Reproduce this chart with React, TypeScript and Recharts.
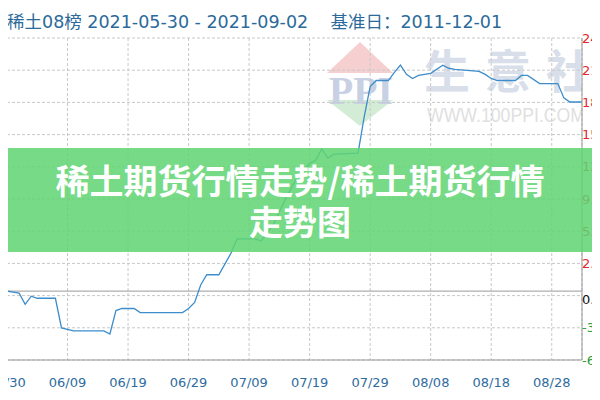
import { LineChart, Line, XAxis, YAxis, CartesianGrid, ReferenceLine } from 'recharts'

// day offsets from 2021-05-30 and the index change (%)
const dayOffsets = [
  0, 1, 2, 3, 4, 5, 8, 9, 11, 16, 17, 18, 19, 21, 22, 29, 30, 31, 32, 33, 35, 37, 38, 40, 41, 42, 44, 46,
  48, 50, 51, 52, 53, 54, 58, 59, 60, 61, 63, 64, 65, 66, 67, 68, 70, 72, 73, 74, 78, 79, 80, 81, 84, 85,
  86, 88, 91, 92, 93, 95,
]
const changeValues = [
  0, -0.1, -0.2, -1.3, -0.5, -0.7, -0.7, -3.6, -3.9, -3.9, -4.2, -1.9, -1.7, -1.7, -2.1, -2.1, -1.7, -1.1,
  0.6, 1.6, 1.6, 3.7, 5.1, 5.1, 5.1, 4.9, 6.5, 9.0, 11.2, 12.5, 12.8, 13.9, 13.0, 13.4, 13.5, 17.0, 20.0,
  20.6, 20.6, 21.4, 22.1, 21.2, 20.8, 21.1, 21.3, 22.1, 21.8, 21.7, 21.5, 21.2, 20.8, 20.6, 20.6, 21.1,
  21.1, 20.3, 20.3, 18.9, 18.5, 18.5,
]

const xTicks = [0, 10, 20, 30, 40, 50, 60, 70, 80, 90]
const xTickLabels = ['05/30', '06/09', '06/19', '06/29', '07/09', '07/19', '07/29', '08/08', '08/18', '08/28']
const yTicks = [-6.74, -3.59, -0.44, 2.71, 5.86, 9.01, 12.16, 15.31, 18.46, 21.61, 24.76]

const TITLE = '稀土08榜 2021-05-30 - 2021-09-02\u00a0\u00a0\u00a0\u00a0基准日：2011-12-01'

const chartData = dayOffsets.map((d, i) => ({ day: d, v: changeValues[i] }))

type TickProps = {
  x?: number
  y?: number
  payload?: { value: number }
}

function YTick(props: TickProps) {
  const { x = 0, y = 0, payload } = props
  const v = payload ? payload.value : 0
  const nearZero = Math.abs(v) < 1
  const label = nearZero ? '0.00%' : `${v.toFixed(2)}%`
  const color = nearZero ? '#111' : v > 0 ? '#e5262b' : '#2e9e3a'
  return (
    <text
      x={x}
      y={y + (nearZero ? 4 : 0)}
      fill={color}
      fontSize={13}
      fontFamily="DejaVu Sans"
      textAnchor="start"
      dominantBaseline="central"
    >
      {label}
    </text>
  )
}

function XTick(props: TickProps) {
  const { x = 0, y = 0, payload } = props
  const idx = xTicks.indexOf(payload ? payload.value : -1)
  return (
    <text x={x} y={y} fill="#2f6c9e" fontSize={13} fontFamily="DejaVu Sans" textAnchor="middle" dy="0.71em">
      {idx >= 0 ? xTickLabels[idx] : ''}
    </text>
  )
}

export default function App() {
  return (
    <div
      style={{
        position: 'relative',
        width: 600,
        height: 400,
        margin: -8,
        overflow: 'hidden',
        background: '#fff',
      }}
    >
      <div
        style={{
          position: 'absolute',
          left: 7,
          top: 8,
          fontSize: 17.5,
          fontFamily: '"DejaVu Sans", "Noto Sans CJK SC", sans-serif',
          color: '#2b6a9a',
          whiteSpace: 'nowrap',
        }}
      >
        {TITLE}
      </div>

      {/* watermark, clipped at the right edge of the plot */}
      <div style={{ position: 'absolute', left: 0, top: 0, width: 582, height: 400, overflow: 'hidden' }}>
        <svg width={600} height={400} style={{ position: 'absolute', left: 0, top: 0 }}>
          <polygon points="360,42 327,73 393,73" fill="#f6d0d0" />
          <polygon points="327,100 393,100 360,126" fill="#d3ecd6" />
          <text
            x={329}
            y={104}
            fontSize={40}
            fontWeight={700}
            fontFamily="Liberation Serif"
            fill="#c8d1e4"
            textLength={64}
            lengthAdjust="spacingAndGlyphs"
          >
            PPI
          </text>
          <text
            x={427}
            y={122}
            fontSize={20}
            fontFamily="Liberation Sans"
            fill="#e0e0e0"
            textLength={158}
            lengthAdjust="spacingAndGlyphs"
          >
            WWW.100PPI.COM
          </text>
        </svg>
        <div
          style={{
            position: 'absolute',
            left: 424,
            top: 40,
            fontSize: 46,
            lineHeight: '56px',
            letterSpacing: 15,
            fontWeight: 700,
            fontFamily: '"Noto Sans CJK SC"',
            color: '#d9dfea',
            whiteSpace: 'nowrap',
          }}
        >
          生意社
        </div>
      </div>

      <div style={{ position: 'absolute', left: 0, top: 0 }}>
        <LineChart width={640} height={400} data={chartData} margin={{ top: 38, right: 0, bottom: 0, left: 7 }}>
          <CartesianGrid stroke="#c8c8c8" strokeDasharray="3 2" />
          <XAxis
            dataKey="day"
            type="number"
            domain={[0, 95]}
            ticks={xTicks}
            tick={<XTick />}
            tickLine={false}
            tickSize={0}
            tickMargin={18}
            height={40}
            stroke="#999"
            interval={0}
          />
          <YAxis
            orientation="right"
            domain={[-6.74, 24.76]}
            ticks={yTicks}
            tick={<YTick />}
            tickLine={false}
            tickSize={0}
            tickMargin={0}
            width={58}
            stroke="#999"
            interval={0}
          />
          <ReferenceLine x={0} stroke="#999" />
          <ReferenceLine y={0} stroke="#999" />
          <Line
            type="linear"
            dataKey="v"
            stroke="#3d8ccb"
            strokeWidth={1.3}
            dot={false}
            isAnimationActive={false}
          />
        </LineChart>
      </div>

      <div
        style={{
          position: 'absolute',
          left: 0,
          top: 148,
          width: 600,
          height: 104,
          background: 'rgba(96,212,114,0.86)',
          color: '#fff',
          fontFamily: '"Noto Sans CJK SC"',
          fontWeight: 700,
          fontSize: 34,
          lineHeight: '41px',
          textAlign: 'center',
          paddingTop: 11,
          boxSizing: 'border-box',
        }}
      >
        <div>稀土期货行情走势/稀土期货行情</div>
        <div>走势图</div>
      </div>
    </div>
  )
}
